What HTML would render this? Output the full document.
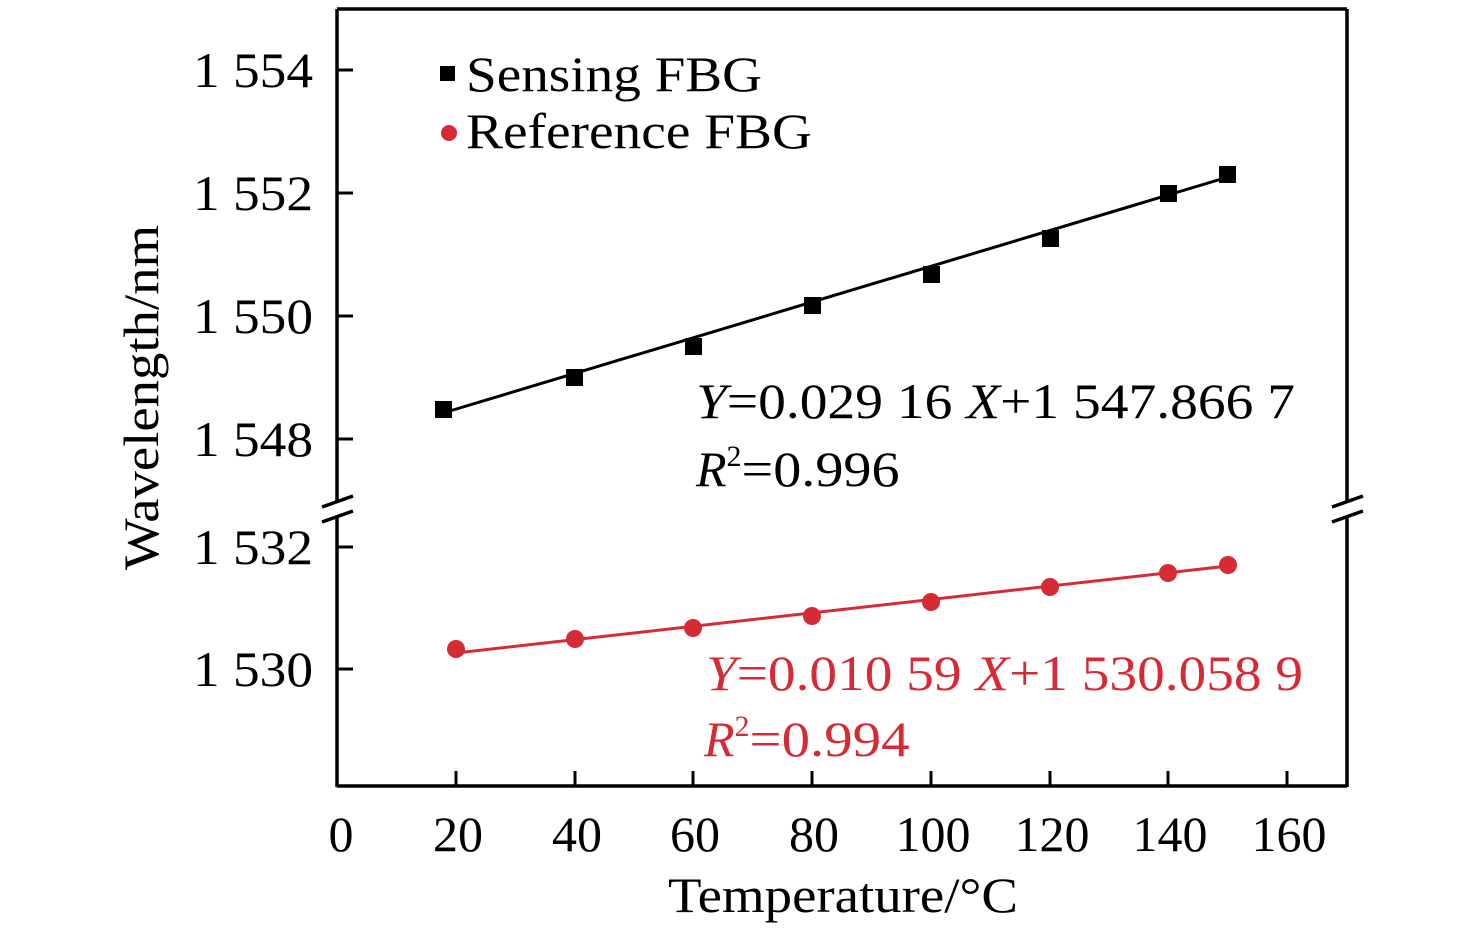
<!DOCTYPE html>
<html><head><style>body{margin:0;background:#fff}svg{display:block}</style></head><body>
<svg width="1476" height="935" xmlns="http://www.w3.org/2000/svg" font-family="Liberation Serif, serif">
<rect width="1476" height="935" fill="#fff"/>
<g stroke="#000" stroke-width="3.5" fill="none">
<line x1="337" y1="9" x2="1347" y2="9"/>
<line x1="337" y1="786" x2="1347" y2="786"/>
<line x1="337" y1="9" x2="337" y2="502"/>
<line x1="337" y1="516" x2="337" y2="787"/>
<line x1="1347" y1="9" x2="1347" y2="502"/>
<line x1="1347" y1="516" x2="1347" y2="787"/>
<line x1="322" y1="507" x2="353" y2="496"/>
<line x1="322" y1="522" x2="353" y2="511"/>
<line x1="1332" y1="507" x2="1363" y2="496"/>
<line x1="1332" y1="522" x2="1363" y2="511"/>
<g stroke-width="3">
<line x1="337" y1="70" x2="353" y2="70"/><line x1="337" y1="193" x2="353" y2="193"/>
<line x1="337" y1="316" x2="353" y2="316"/><line x1="337" y1="439" x2="353" y2="439"/>
<line x1="337" y1="547" x2="353" y2="547"/><line x1="337" y1="669" x2="353" y2="669"/>
<line x1="456" y1="786" x2="456" y2="771"/><line x1="575" y1="786" x2="575" y2="771"/>
<line x1="693" y1="786" x2="693" y2="771"/><line x1="812" y1="786" x2="812" y2="771"/>
<line x1="931" y1="786" x2="931" y2="771"/><line x1="1050" y1="786" x2="1050" y2="771"/>
<line x1="1168" y1="786" x2="1168" y2="771"/><line x1="1287" y1="786" x2="1287" y2="771"/>
</g>
</g>
<g font-size="50" fill="#000">
<text x="193" y="87" textLength="120" lengthAdjust="spacingAndGlyphs">1 554</text>
<text x="193" y="210" textLength="120" lengthAdjust="spacingAndGlyphs">1 552</text>
<text x="193" y="333" textLength="120" lengthAdjust="spacingAndGlyphs">1 550</text>
<text x="193" y="456" textLength="120" lengthAdjust="spacingAndGlyphs">1 548</text>
<text x="193" y="564" textLength="120" lengthAdjust="spacingAndGlyphs">1 532</text>
<text x="193" y="686" textLength="120" lengthAdjust="spacingAndGlyphs">1 530</text>
</g>
<g font-size="50" fill="#000" text-anchor="middle">
<text x="341" y="851">0</text><text x="458" y="851">20</text><text x="577" y="851">40</text>
<text x="695" y="851">60</text><text x="814" y="851">80</text><text x="933" y="851">100</text>
<text x="1052" y="851">120</text><text x="1170" y="851">140</text><text x="1289" y="851">160</text>
</g>
<text x="668" y="912" font-size="50" textLength="350" lengthAdjust="spacingAndGlyphs">Temperature/°C</text>
<text transform="translate(158,570) rotate(-90)" font-size="50" textLength="345" lengthAdjust="spacingAndGlyphs">Wavelength/nm</text>
<line x1="443" y1="413" x2="1228" y2="177" stroke="#000" stroke-width="3"/>
<g fill="#000">
<rect x="435" y="401" width="17" height="17"/><rect x="566" y="369" width="17" height="17"/>
<rect x="685" y="338" width="17" height="17"/><rect x="804" y="297" width="17" height="17"/>
<rect x="923" y="266" width="17" height="17"/><rect x="1042" y="230" width="17" height="17"/>
<rect x="1160" y="185" width="17" height="17"/><rect x="1219" y="166" width="17" height="17"/>
<rect x="440" y="66" width="15" height="15"/>
</g>
<line x1="456" y1="653" x2="1228" y2="566" stroke="#d62b35" stroke-width="3"/>
<g fill="#d62b35">
<circle cx="456" cy="649" r="9"/><circle cx="575" cy="639" r="9"/><circle cx="693" cy="628" r="9"/>
<circle cx="812" cy="616" r="9"/><circle cx="931" cy="602" r="9"/><circle cx="1050" cy="587" r="9"/>
<circle cx="1168" cy="573" r="9"/><circle cx="1228" cy="565" r="9"/>
<circle cx="449" cy="133" r="8"/>
</g>
<g font-size="50" fill="#000">
<text x="466" y="91" textLength="296" lengthAdjust="spacingAndGlyphs">Sensing FBG</text>
<text x="466" y="148" textLength="346" lengthAdjust="spacingAndGlyphs">Reference FBG</text>
<text x="696" y="418" textLength="599" lengthAdjust="spacingAndGlyphs"><tspan font-style="italic">Y</tspan>=0.029 16 <tspan font-style="italic">X</tspan>+1 547.866 7</text>
<text x="696" y="486"><tspan font-style="italic">R</tspan><tspan font-size="30" dy="-20">2</tspan><tspan dy="20" textLength="158" lengthAdjust="spacingAndGlyphs">=0.996</tspan></text>
</g>
<g font-size="50" fill="#d62b35">
<text x="706" y="690" textLength="597" lengthAdjust="spacingAndGlyphs"><tspan font-style="italic">Y</tspan>=0.010 59 <tspan font-style="italic">X</tspan>+1 530.058 9</text>
<text x="704" y="756"><tspan font-style="italic">R</tspan><tspan font-size="30" dy="-20">2</tspan><tspan dy="20" textLength="160" lengthAdjust="spacingAndGlyphs">=0.994</tspan></text>
</g>
</svg>
</body></html>
